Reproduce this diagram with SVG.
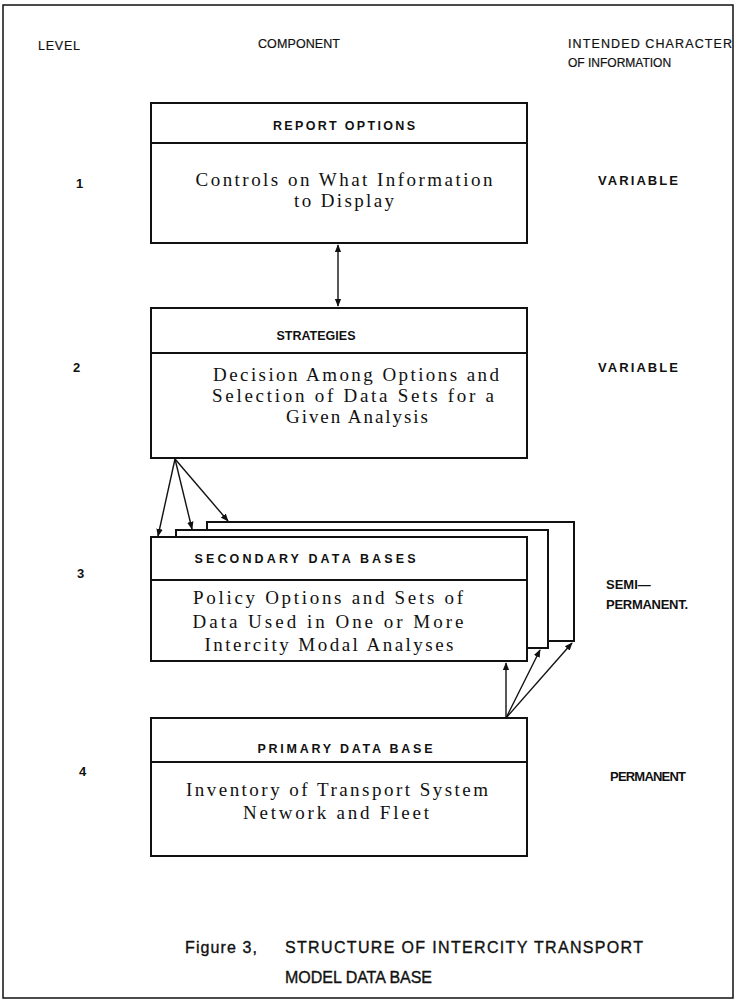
<svg xmlns="http://www.w3.org/2000/svg" width="735" height="1003" viewBox="0 0 735 1003">
<style>
.bx{fill:#fff;stroke:#111;stroke-width:2}
.dv{stroke:#111;stroke-width:1.8;fill:none}
.ln{stroke:#111;stroke-width:1.4;fill:none}
.hd{font-family:"Liberation Sans",Arial,sans-serif;font-size:12.5px;fill:#111;stroke:#111;stroke-width:0.2}
.tt{font-family:"Liberation Sans",Arial,sans-serif;font-size:12.5px;font-weight:bold;fill:#111;text-anchor:middle}
.bd{font-family:"Liberation Serif","Times New Roman",serif;font-size:19px;fill:#111;text-anchor:middle}
.lv{font-family:"Liberation Sans",Arial,sans-serif;font-size:13px;font-weight:bold;fill:#111}
.ch{font-family:"Liberation Sans",Arial,sans-serif;font-size:13px;font-weight:bold;fill:#111}
.cap{font-family:"Liberation Sans",Arial,sans-serif;font-size:16px;fill:#111;stroke:#111;stroke-width:0.35}
</style>
<defs>
<marker id="ah" viewBox="0 0 10 10" refX="9" refY="5" markerWidth="8" markerHeight="8" markerUnits="userSpaceOnUse" orient="auto-start-reverse">
<path d="M0,1 L10,5 L0,9 Z" fill="#111"/>
</marker>
</defs>
<rect x="3" y="5" width="730" height="993" fill="none" stroke="#111" stroke-width="1.5"/>
<g id="headers">
<text class="hd" x="38" y="50" textLength="42" lengthAdjust="spacing">LEVEL</text>
<text class="hd" x="258" y="48" textLength="82" lengthAdjust="spacing">COMPONENT</text>
<text class="hd" x="568" y="48" textLength="164" lengthAdjust="spacing">INTENDED CHARACTER</text>
<text class="hd" x="568" y="67" style="font-size:12px">OF INFORMATION</text>
</g>
<g id="levels">
<text class="lv" x="76" y="188">1</text>
<text class="lv" x="73" y="372">2</text>
<text class="lv" x="77" y="578">3</text>
<text class="lv" x="79" y="776">4</text>
</g>
<g id="characters">
<text class="ch" x="598" y="185" textLength="80" lengthAdjust="spacing">VARIABLE</text>
<text class="ch" x="598" y="372" textLength="80" lengthAdjust="spacing">VARIABLE</text>
<text class="ch" x="606" y="589">SEMI—</text>
<text class="ch" x="606" y="609" textLength="82" lengthAdjust="spacing">PERMANENT.</text>
<text class="ch" x="610" y="781" textLength="76" lengthAdjust="spacing">PERMANENT</text>
</g>
<g id="connectors">
<line class="ln" x1="338" y1="245" x2="338" y2="306" marker-start="url(#ah)" marker-end="url(#ah)"/>
<line class="ln" x1="175" y1="459" x2="158" y2="536" marker-end="url(#ah)"/>
<line class="ln" x1="175" y1="459" x2="192" y2="529" marker-end="url(#ah)"/>
<line class="ln" x1="175" y1="459" x2="228" y2="521" marker-end="url(#ah)"/>
<line class="ln" x1="506" y1="718" x2="506" y2="663" marker-end="url(#ah)"/>
<line class="ln" x1="506" y1="718" x2="540" y2="650" marker-end="url(#ah)"/>
<line class="ln" x1="506" y1="718" x2="572" y2="643" marker-end="url(#ah)"/>
</g>
<g id="report-options">
<rect class="bx" x="151" y="103" width="376" height="140"/>
<line class="dv" x1="151" y1="143" x2="527" y2="143"/>
<text class="tt" x="344" y="130" textLength="142" lengthAdjust="spacing">REPORT OPTIONS</text>
<text class="bd" x="344" y="186" textLength="297" lengthAdjust="spacing">Controls on What Information</text>
<text class="bd" x="344" y="207" textLength="100" lengthAdjust="spacing">to Display</text>
</g>
<g id="strategies">
<rect class="bx" x="151" y="308" width="376" height="150"/>
<line class="dv" x1="151" y1="353" x2="527" y2="353"/>
<text class="tt" x="316" y="340" textLength="79" lengthAdjust="spacing">STRATEGIES</text>
<text class="bd" x="356" y="381" textLength="286" lengthAdjust="spacing">Decision Among Options and</text>
<text class="bd" x="353" y="402" textLength="282" lengthAdjust="spacing">Selection of Data Sets for a</text>
<text class="bd" x="357" y="423" textLength="142" lengthAdjust="spacing">Given Analysis</text>
</g>
<g id="secondary-data-bases">
<rect class="bx" x="207" y="522" width="367" height="119"/>
<rect class="bx" x="176" y="530" width="372" height="118"/>
<rect class="bx" x="151" y="537" width="376" height="124"/>
<line class="dv" x1="151" y1="580" x2="527" y2="580"/>
<text class="tt" x="305" y="563" textLength="221" lengthAdjust="spacing">SECONDARY DATA BASES</text>
<text class="bd" x="328" y="604" textLength="270" lengthAdjust="spacing">Policy Options and Sets of</text>
<text class="bd" x="328" y="628" textLength="271" lengthAdjust="spacing">Data Used in One or More</text>
<text class="bd" x="329" y="651" textLength="249" lengthAdjust="spacing">Intercity Modal Analyses</text>
</g>
<g id="primary-data-base">
<rect class="bx" x="151" y="718" width="376" height="138"/>
<line class="dv" x1="151" y1="762" x2="527" y2="762"/>
<text class="tt" x="345" y="753" textLength="175" lengthAdjust="spacing">PRIMARY DATA BASE</text>
<text class="bd" x="337" y="796" textLength="302" lengthAdjust="spacing">Inventory of Transport System</text>
<text class="bd" x="336" y="819" textLength="186" lengthAdjust="spacing">Network and Fleet</text>
</g>
<g id="caption">
<text class="cap" x="185" y="953" textLength="72" lengthAdjust="spacing">Figure 3,</text>
<text class="cap" x="285" y="953" textLength="358" lengthAdjust="spacing">STRUCTURE OF INTERCITY TRANSPORT</text>
<text class="cap" x="285" y="983" textLength="147" lengthAdjust="spacing">MODEL DATA BASE</text>
</g>
</svg>
